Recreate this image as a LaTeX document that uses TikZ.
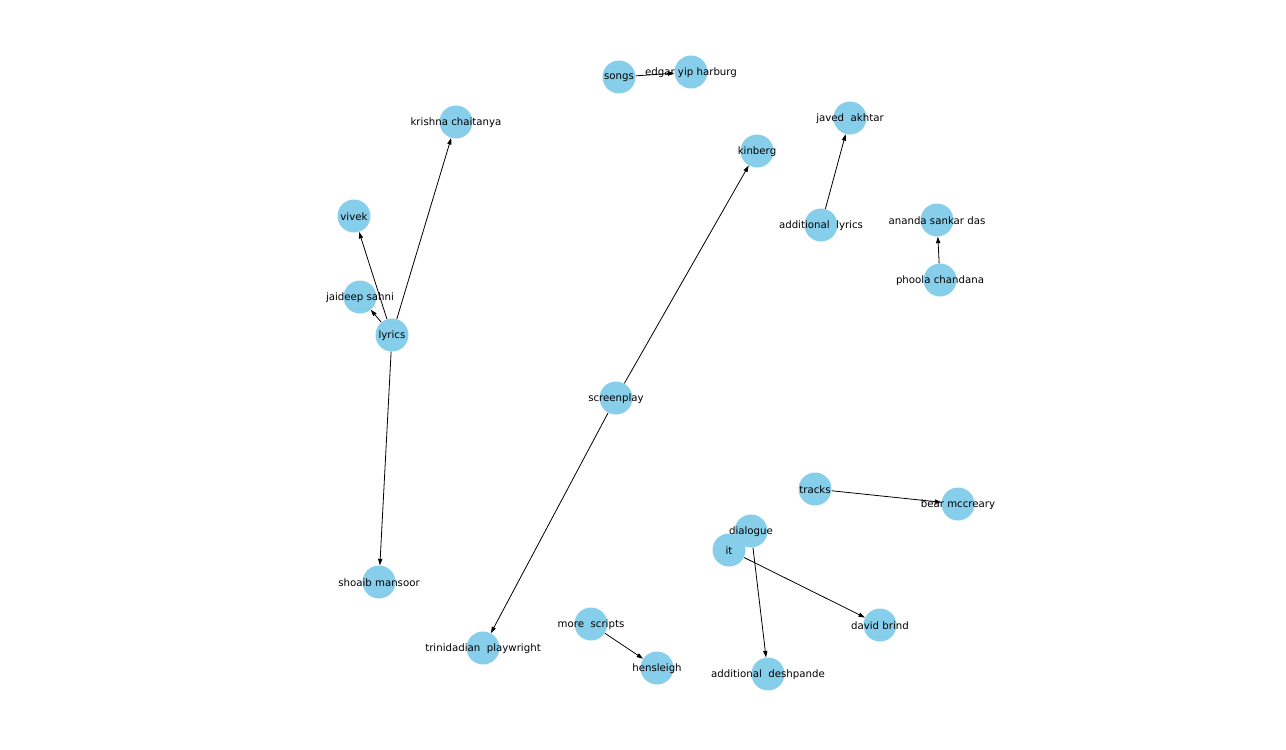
\documentclass[tikz,border=0pt]{standalone}
\usepackage{fontspec}
\setmainfont{DejaVu Sans}
\usetikzlibrary{arrows.meta}
\pgfdeclarelayer{bg}
\pgfsetlayers{bg,main}
\definecolor{sky}{HTML}{87CEEB}
\begin{document}
\begin{tikzpicture}[x=1pt,y=-1pt,
  dot/.style={circle,fill=sky,draw=none,minimum size=33pt,inner sep=0pt},
  lbl/.style={font=\fontsize{10.2}{12}\selectfont,text=black,inner sep=0pt,yshift=-1pt},
  edge/.style={-{Triangle[length=6.5pt,width=4.2pt]},line width=0.8pt,black}]
\useasboundingbox (0,0) rectangle (1286,750);
\foreach \n/\x/\y in {songs/619/77, edgar/691/72, krishna/456/122, kinberg/757/151,
  javed/850/118, vivek/354/216, addlyrics/821/225, ananda/937/220, phoola/940/280,
  jaideep/360/297, lyrics/392/335, screenplay/616/398, tracks/815/489, bear/958/504,
  dialogue/751/531, it/729/550, shoaib/379/582, more/591/624, david/880/625,
  trini/483/648, hens/657/668, adddesh/768/674}
  {\node[dot] (\n) at (\x,\y) {};}
\begin{pgfonlayer}{bg}
\draw[edge] (songs) -- (edgar);
\draw[edge] (lyrics) -- (krishna);
\draw[edge] (lyrics) -- (vivek);
\draw[edge] (lyrics) -- (jaideep);
\draw[edge] (lyrics) -- (shoaib);
\draw[edge] (screenplay) -- (kinberg);
\draw[edge] (screenplay) -- (trini);
\draw[edge] (addlyrics) -- (javed);
\draw[edge] (phoola) -- (ananda);
\draw[edge] (tracks) -- (bear);
\draw[edge] (dialogue) -- (adddesh);
\draw[edge] (it) -- (david);
\draw[edge] (more) -- (hens);
\end{pgfonlayer}
\node[lbl] (songs-l) at (songs) {songs};
\node[lbl] (edgar-l) at (edgar) {edgar yip harburg};
\node[lbl] (krishna-l) at (krishna) {krishna chaitanya};
\node[lbl] (kinberg-l) at (kinberg) {kinberg};
\node[lbl] (javed-l) at (javed) {javed\ \ akhtar};
\node[lbl] (vivek-l) at (vivek) {vivek};
\node[lbl] (addlyrics-l) at (addlyrics) {additional\ \ lyrics};
\node[lbl] (ananda-l) at (ananda) {ananda sankar das};
\node[lbl] (phoola-l) at (phoola) {phoola chandana};
\node[lbl] (jaideep-l) at (jaideep) {jaideep sahni};
\node[lbl] (lyrics-l) at (lyrics) {lyrics};
\node[lbl] (screenplay-l) at (screenplay) {screenplay};
\node[lbl] (tracks-l) at (tracks) {tracks};
\node[lbl] (bear-l) at (bear) {bear mccreary};
\node[lbl] (dialogue-l) at (dialogue) {dialogue};
\node[lbl] (it-l) at (it) {it};
\node[lbl] (shoaib-l) at (shoaib) {shoaib mansoor};
\node[lbl] (more-l) at (more) {more\ \ scripts};
\node[lbl] (david-l) at (david) {david brind};
\node[lbl] (trini-l) at (trini) {trinidadian\ \ playwright};
\node[lbl] (hens-l) at (hens) {hensleigh};
\node[lbl] (adddesh-l) at (adddesh) {additional\ \ deshpande};
\end{tikzpicture}
\end{document}
